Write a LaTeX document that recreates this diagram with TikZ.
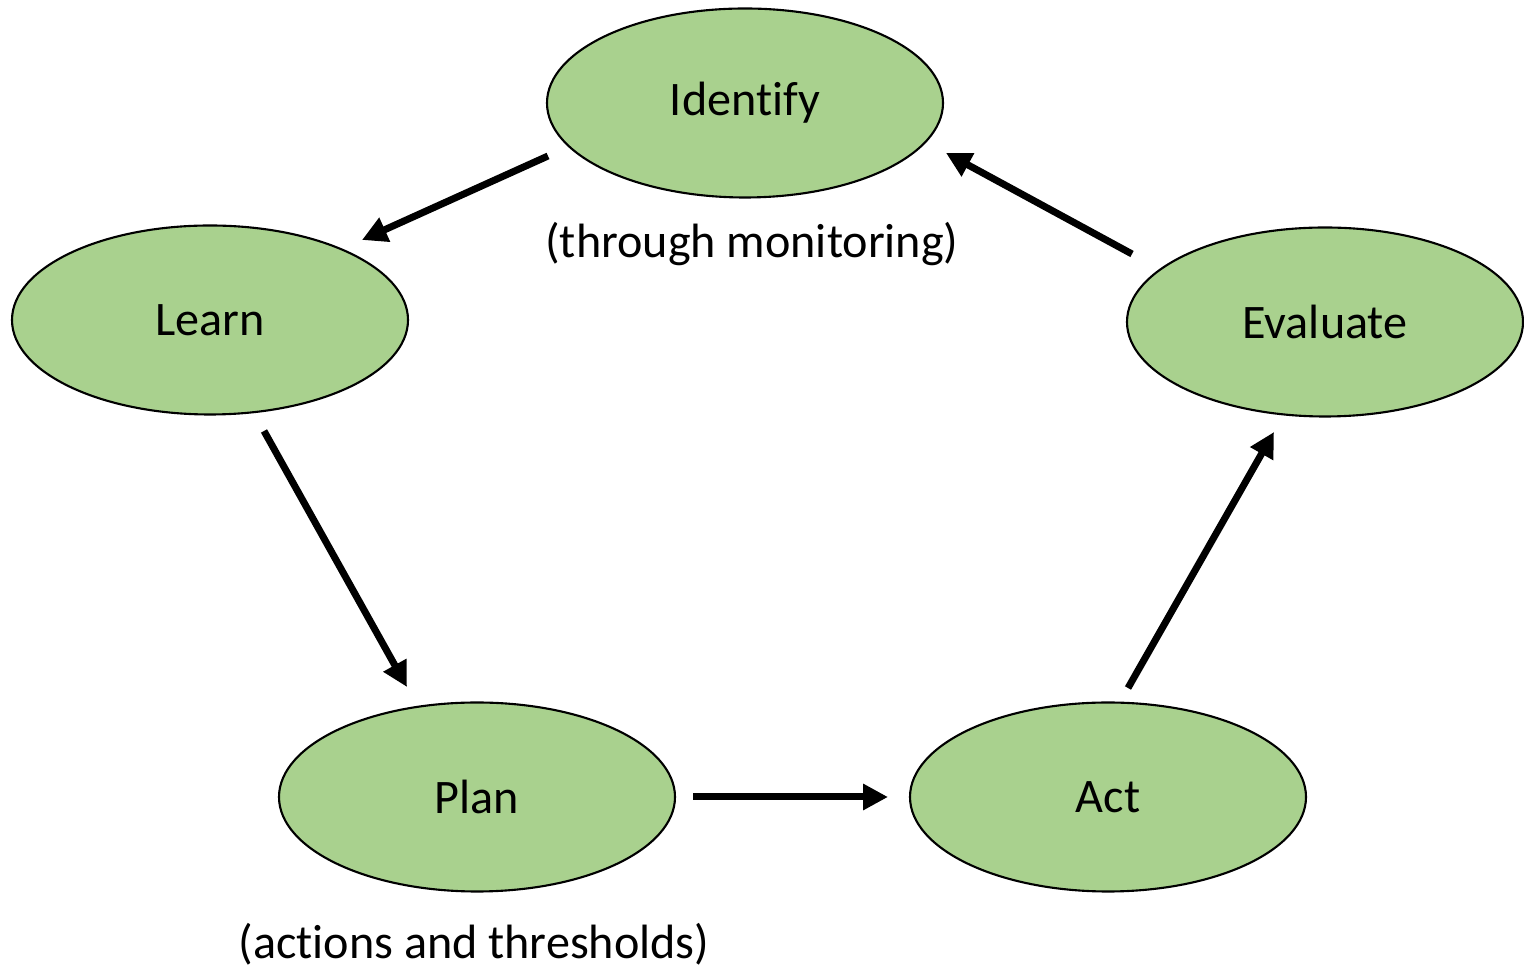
\documentclass[tikz,border=0pt]{standalone}
\usepackage{fontspec}
\setmainfont[Ligatures=NoCommon]{Carlito}
\usetikzlibrary{shapes.geometric,arrows.meta,positioning}
\definecolor{stepgreen}{RGB}{169,209,142}
\tikzset{
  stage/.style={draw, ellipse, fill=stepgreen, line width=0.6pt,
    minimum width=3.96cm, minimum height=1.89cm, inner sep=0pt,
    font=\fontsize{13.7}{16}\selectfont},
  note/.style={font=\fontsize{13.7}{16}\selectfont, inner sep=0pt},
  arr/.style={line width=0.07cm, -{Triangle[length=0.25cm,width=0.25cm]}}
}
\begin{document}
\begin{tikzpicture}
  \useasboundingbox (0,0) rectangle (15.24,-9.71);
  \node(ident)[stage] at(7.45,-1.03) {Identify};
  \node(learn)[stage] at(2.10,-3.20) {Learn};
  \node(eval)[stage] at(13.25,-3.22) {Evaluate};
  \node(plan)[stage] at(4.77,-7.97) {Plan};
  \node(act)[stage] at(11.08,-7.97) {Act};
  \node(monit)[note] at(7.52,-2.44) {(through monitoring)};
  \node(thres)[note] at(4.74,-9.44) {(actions and thresholds)};
  % arrows stop short of the ellipses
  \draw[arr] ([shift={(-1.97,-0.53)}]ident.center) -- ([shift={(1.52,0.80)}]learn.center);
  \draw[arr] ([shift={(0.54,-1.11)}]learn.center) -- ([shift={(-0.70,1.10)}]plan.center);
  \draw[arr] ([shift={(2.16,0)}]plan.center) -- ([shift={(-2.20,0)}]act.center);
  \draw[arr] ([shift={(0.20,1.09)}]act.center) -- ([shift={(-0.51,-1.10)}]eval.center);
  \draw[arr] ([shift={(-1.93,0.68)}]eval.center) -- ([shift={(2.01,-0.50)}]ident.center);
\end{tikzpicture}
\end{document}
